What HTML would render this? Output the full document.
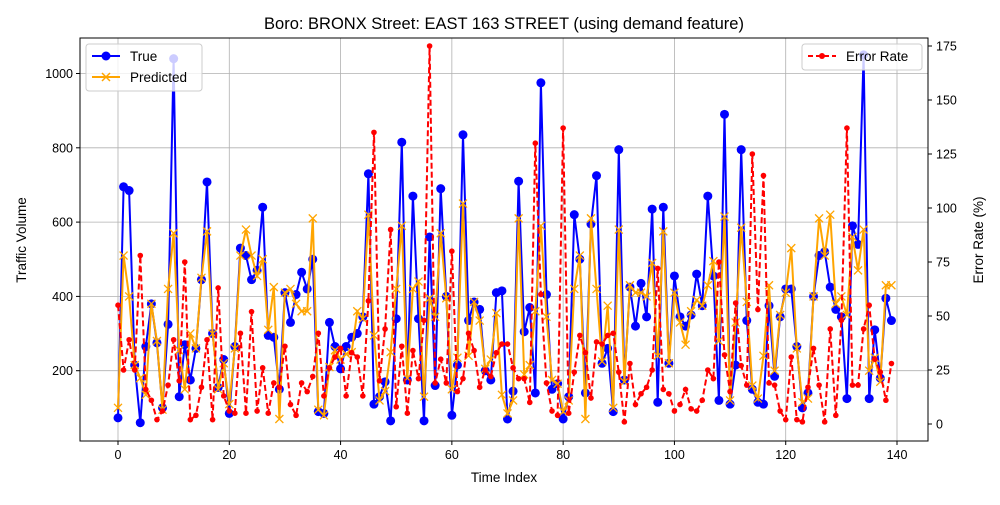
<!DOCTYPE html>
<html><head><meta charset="utf-8"><style>
body{margin:0;background:#fff;font-family:"Liberation Sans",sans-serif}
svg text{font-family:"Liberation Sans",sans-serif;fill:#000}
</style></head><body>
<svg id="chart" width="1000" height="500" xmlns="http://www.w3.org/2000/svg">
<rect width="1000" height="500" fill="#fff"/>
<g id="grid"></g>
<g id="marks"></g>
<rect x="80" y="38" width="848" height="403" fill="none" stroke="#000" stroke-width="1"/>
<g id="axes"></g>
<text x="504" y="29" font-size="16.5" text-anchor="middle">Boro: BRONX Street: EAST 163 STREET (using demand feature)</text>
<text x="504" y="482" font-size="13.5" text-anchor="middle">Time Index</text>
<text transform="translate(26,240) rotate(-90)" font-size="13.5" text-anchor="middle">Traffic Volume</text>
<text transform="translate(983,240) rotate(-90)" font-size="13.5" text-anchor="middle">Error Rate (%)</text>
<g>
<rect x="86" y="44" width="116" height="47" rx="3" fill="#fff" fill-opacity="0.8" stroke="#ccc"/>
<g><line x1="92" y1="56" x2="120" y2="56" stroke="blue" stroke-width="2"/><circle cx="106" cy="56" r="4.5" fill="blue"/><text x="130" y="61" font-size="13.5">True</text></g>
<g><line x1="92" y1="77" x2="120" y2="77" stroke="orange" stroke-width="2"/><path d="M102 73l8 8M110 73l-8 8" stroke="orange" stroke-width="1.5"/><text x="130" y="82" font-size="13.5">Predicted</text></g>
</g>
<g>
<rect x="802" y="44" width="120" height="26" rx="3" fill="#fff" fill-opacity="0.8" stroke="#ccc"/>
<g><line x1="808" y1="56" x2="836" y2="56" stroke="red" stroke-width="2" stroke-dasharray="5,3"/><circle cx="822" cy="56" r="3" fill="red"/><text x="846" y="61" font-size="13.5">Error Rate</text></g>
</g>
</svg>
<script>
const trueVals=[73,695,685,215,60,265,380,275,100,325,1040,130,270,175,260,445,708,300,155,230,85,265,530,510,445,470,640,295,290,150,410,330,405,465,420,500,90,85,330,265,205,265,290,300,345,730,110,130,170,65,340,815,175,670,340,65,560,160,690,400,80,215,835,335,385,365,200,175,410,415,70,145,710,305,370,140,975,405,150,165,70,130,620,500,140,595,725,220,260,90,795,175,425,320,435,345,635,115,640,220,455,345,320,350,460,375,670,455,120,890,110,215,795,335,150,115,110,375,185,345,420,420,265,100,140,400,510,520,425,365,345,125,590,540,1050,125,310,180,395,335];
const predVals=[100,510,400,215,180,135,380,280,95,420,570,255,150,300,260,450,575,300,150,220,110,260,510,580,510,455,500,310,425,70,410,420,380,360,360,610,95,80,210,255,230,245,250,360,340,620,295,120,145,250,420,590,180,420,440,130,395,345,570,395,150,235,650,240,385,335,205,230,355,135,85,120,610,190,215,360,590,345,175,165,90,120,420,510,70,610,420,225,375,100,580,170,430,410,410,400,490,240,575,220,410,330,270,360,390,375,430,495,280,615,120,330,585,385,160,125,240,430,200,350,410,530,260,115,125,400,610,510,620,380,400,350,560,470,580,200,235,170,430,430];
const errVals=[55,25,39,25,78,16,11,2,6,18,39,20,75,2,4,17,39,2,63,13,6,5,42,5,52,6,26,5,19,17,36,9,4,19,15,22,42,13,26,31,35,13,33,31,13,57,135,20,44,90,8,36,5,34,21,48,175,19,30,19,80,15,21,42,34,17,25,22,33,37,37,26,21,21,10,130,60,19,6,4,137,5,24,41,33,12,38,37,41,42,24,1,28,9,14,17,25,72,16,14,6,9,16,7,6,11,25,21,75,32,15,56,27,18,125,53,115,19,18,6,2,31,2,1,17,35,18,1,44,4,48,137,18,18,44,55,30,24,11,28];
const xTicks=[0,20,40,60,80,100,120,140];
const yTicks=[200,400,600,800,1000];
const y2Ticks=[0,25,50,75,100,125,150,175];
const NS='http://www.w3.org/2000/svg';
const X=i=>118+i*(897-118)/140;
const Y=v=>445-v*0.3715;
const Y2=v=>424-v*2.16;
function mk(tag,attrs,parent){const e=document.createElementNS(NS,tag);for(const k in attrs)e.setAttribute(k,attrs[k]);parent.appendChild(e);return e;}
const grid=document.getElementById('grid'),axes=document.getElementById('axes'),marks=document.getElementById('marks');
xTicks.forEach(t=>{const x=X(t);
 const g=mk('line',{x1:x,x2:x,y1:38,y2:441,stroke:'#b0b0b0','stroke-width':0.8},grid);
 
 
 mk('line',{x1:x,x2:x,y1:441,y2:445,stroke:'#000'},axes);
 const tx=mk('text',{x:x,y:459,'font-size':12.5,'text-anchor':'middle'},axes);tx.textContent=t;
 
 });
yTicks.forEach(t=>{const y=Y(t);
 const g=mk('line',{x1:80,x2:928,y1:y,y2:y,stroke:'#b0b0b0','stroke-width':0.8},grid);
 
 
 mk('line',{x1:76,x2:80,y1:y,y2:y,stroke:'#000'},axes);
 const tx=mk('text',{x:73,y:y+4.5,'font-size':12.5,'text-anchor':'end'},axes);tx.textContent=t;
 
 });
y2Ticks.forEach(t=>{const y=Y2(t);
 mk('line',{x1:928,x2:932,y1:y,y2:y,stroke:'#000'},axes);
 const tx=mk('text',{x:936,y:y+4.5,'font-size':12.5},axes);tx.textContent=t;
 
 });
function pts(arr,f){return arr.map((v,i)=>X(i).toFixed(1)+','+f(v).toFixed(1)).join(' ');}
const lt=mk('polyline',{points:pts(trueVals,Y),fill:'none',stroke:'blue','stroke-width':2},marks);


trueVals.forEach((v,i)=>{const c=mk('circle',{cx:X(i),cy:Y(v),r:4.5,fill:'blue'},marks);
 
 });
const lp=mk('polyline',{points:pts(predVals,Y),fill:'none',stroke:'orange','stroke-width':2},marks);


predVals.forEach((v,i)=>{const x=X(i),y=Y(v);const p=mk('path',{d:`M${x-4} ${y-4}l8 8M${x+4} ${y-4}l-8 8`,stroke:'orange','stroke-width':1.3},marks);
 
 });
const le=mk('polyline',{points:pts(errVals,Y2),fill:'none',stroke:'red','stroke-width':2,'stroke-dasharray':'6,3'},marks);


errVals.forEach((v,i)=>{const c=mk('circle',{cx:X(i),cy:Y2(v),r:2.8,fill:'red'},marks);
 
 });
</script>
</body></html>
